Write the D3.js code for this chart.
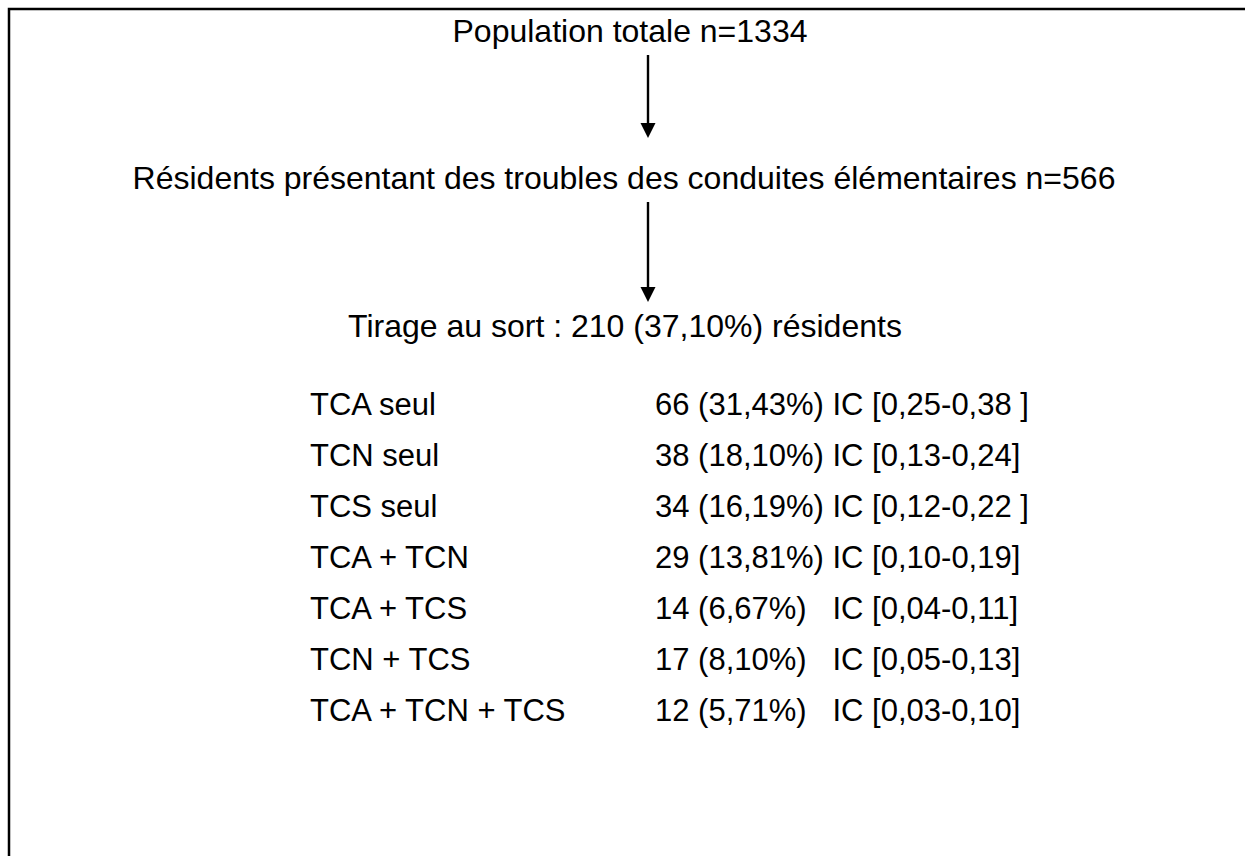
<!DOCTYPE html>
<html>
<head>
<meta charset="utf-8">
<script src="https://cdn.jsdelivr.net/npm/d3@7"></script>
<style>
  html, body { margin: 0; padding: 0; background: #fff; }
  svg { display: block; }
  text { font-family: "Liberation Sans", Arial, sans-serif; fill: #000; white-space: pre; }
</style>
</head>
<body>
<svg id="chart" width="1245" height="856"></svg>
<script>
// ---- data ----
const stepLabels = [
  "Population totale n=1334",
  "Résidents présentant des troubles des conduites élémentaires n=566",
  "Tirage au sort : 210 (37,10%) résidents"
];
const categories = ["TCA seul", "TCN seul", "TCS seul", "TCA + TCN", "TCA + TCS", "TCN + TCS", "TCA + TCN + TCS"];
const counts = [66, 38, 34, 29, 14, 17, 12];
const percents = ["31,43%", "18,10%", "16,19%", "13,81%", "6,67%", "8,10%", "5,71%"];
const icLabels = ["IC [0,25-0,38 ]", "IC [0,13-0,24]", "IC [0,12-0,22 ]", "IC [0,10-0,19]", "IC [0,04-0,11]", "IC [0,05-0,13]", "IC [0,03-0,10]"];

const svg = d3.select("#chart");
const W = 1245, H = 856;
const fsHead = 32, fsRow = 31;

// frame (extends beyond right and bottom edges)
svg.append("path")
  .attr("d", `M9,${H + 10} L9,9 L${W + 10},9`)
  .attr("fill", "none").attr("stroke", "#000").attr("stroke-width", 2.5);

// step positions
const stepY = d3.scalePoint().domain(d3.range(stepLabels.length)).range([30, 325]);
const stepX = [630, 624, 625];

svg.selectAll("text.step").data(stepLabels).join("text")
  .attr("class", "step")
  .attr("x", (d, i) => stepX[i])
  .attr("y", (d, i) => stepY(i))
  .attr("dy", "0.36em")
  .attr("text-anchor", "middle")
  .attr("font-size", fsHead)
  .text(d => d);

// arrows
const arrowX = 648;
const arrows = [[55, 138], [202, 302]];
arrows.forEach(([y0, y1]) => {
  svg.append("line").attr("x1", arrowX).attr("x2", arrowX).attr("y1", y0).attr("y2", y1 - 12)
    .attr("stroke", "#000").attr("stroke-width", 2.4);
  svg.append("path")
    .attr("d", `M${arrowX - 7.5},${y1 - 15} L${arrowX + 7.5},${y1 - 15} L${arrowX},${y1} Z`)
    .attr("fill", "#000");
});

// rows
const rowY = d3.scalePoint().domain(categories).range([404, 710]);
const labelX = 310, valueX = 655;

const rows = svg.selectAll("g.row").data(categories).join("g").attr("class", "row")
  .attr("transform", d => `translate(0,${rowY(d)})`);

rows.append("text")
  .attr("x", labelX).attr("dy", "0.36em").attr("font-size", fsRow)
  .text(d => d);

rows.append("text")
  .attr("x", valueX).attr("dy", "0.36em").attr("font-size", fsRow)
  .text((d, i) => {
    const base = `${counts[i]} (${percents[i]})`;
    const pad = percents[i].length < 6 ? "   " : " ";
    return base + pad + icLabels[i];
  });
</script>
</body>
</html>
